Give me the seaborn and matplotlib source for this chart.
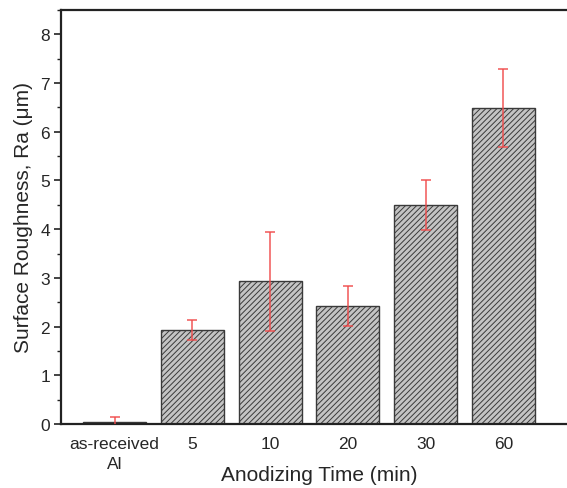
import matplotlib
matplotlib.use("Agg")
import matplotlib.pyplot as plt
import seaborn as sns
import pandas as pd
from matplotlib.ticker import MultipleLocator

# data
categories = ["as-received\nAl", "5", "10", "20", "30", "60"]
roughness = [0.05, 1.93, 2.93, 2.42, 4.49, 6.48]
roughness_err = [0.10, 0.20, 1.02, 0.41, 0.51, 0.80]

sns.set_style("white")
plt.rcParams["font.family"] = ["Liberation Sans", "DejaVu Sans"]
plt.rcParams["hatch.linewidth"] = 0.7

df = pd.DataFrame({"time": categories, "ra": roughness})

fig = plt.figure(figsize=(5.67, 4.89), dpi=100)
ax = fig.add_axes([0.1076, 0.1309, 0.9065, 0.8466])

sns.barplot(data=df, x="time", y="ra", order=categories, color="#c4c4c4",
            edgecolor="#3a3a3a", linewidth=1.0, width=0.81, errorbar=None,
            saturation=1, ax=ax)
for patch in ax.patches:
    patch.set_hatch("//////")

ax.errorbar(range(len(categories)), roughness, yerr=roughness_err, fmt="none",
            ecolor="#f04a4a", alpha=0.85, elinewidth=1.2, capsize=3.5,
            capthick=1.2, zorder=5)

ax.set_xlim(-0.69, 5.92)
ax.set_ylim(0, 8.5)
ax.yaxis.set_major_locator(MultipleLocator(1))
ax.yaxis.set_minor_locator(MultipleLocator(0.5))

for side in ["left", "top", "bottom"]:
    ax.spines[side].set_color("#222222")
    ax.spines[side].set_linewidth(1.6)
ax.spines["right"].set_visible(False)

ax.tick_params(axis="y", which="major", direction="out", length=5, width=1.2,
               left=True, labelsize=12.5, color="#222222", pad=3)
ax.tick_params(axis="y", which="minor", direction="out", length=3, width=1.0,
               left=True, color="#222222")
ax.tick_params(axis="x", length=0, labelsize=12.5, pad=9)
for lbl in ax.get_xticklabels():
    lbl.set_linespacing(1.35)

ax.set_xlabel("Anodizing Time (min)", fontsize=15)
ax.xaxis.set_label_coords(0.502, -0.098)
ax.set_ylabel("Surface Roughness, Ra (\u03bcm)", fontsize=15, labelpad=5)

fig.savefig("out.png", dpi=100)
